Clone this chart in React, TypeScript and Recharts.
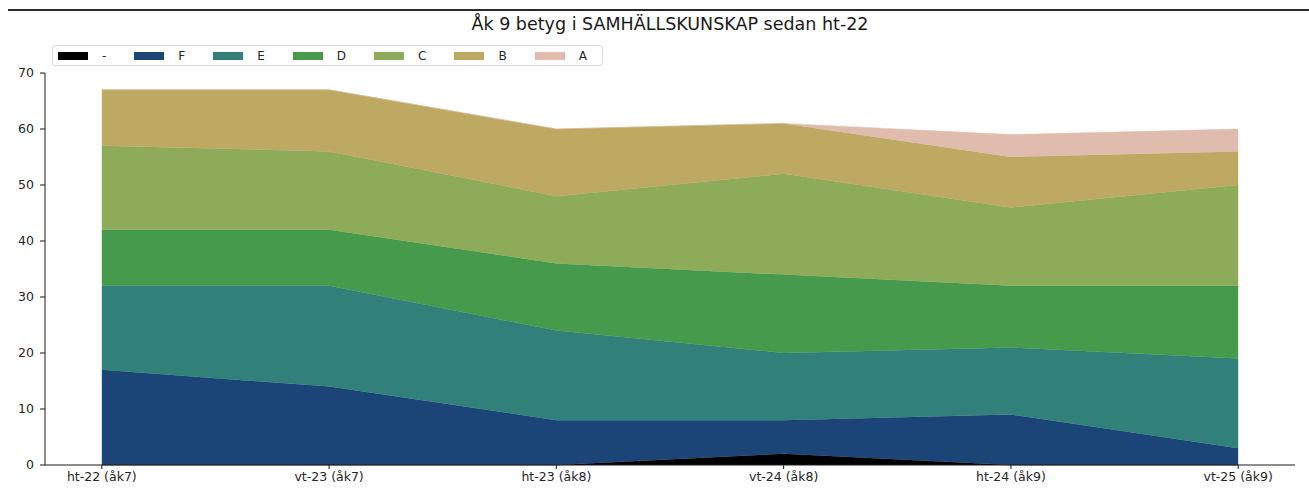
import { AreaChart, Area, XAxis, YAxis } from 'recharts';

const categories = ['ht-22 (åk7)', 'vt-23 (åk7)', 'ht-23 (åk8)', 'vt-24 (åk8)', 'ht-24 (åk9)', 'vt-25 (åk9)'];

// number of pupils per grade, stacked bottom to top
const dash = [0, 0, 0, 2, 0, 0];
const gradeF = [17, 14, 8, 6, 9, 3];
const gradeE = [15, 18, 16, 12, 12, 16];
const gradeD = [10, 10, 12, 14, 11, 13];
const gradeC = [15, 14, 12, 18, 14, 18];
const gradeB = [10, 11, 12, 9, 9, 6];
const gradeA = [0, 0, 0, 0, 4, 4];

const yTicks = [0, 10, 20, 30, 40, 50, 60, 70];

const series = [
  { key: '-', values: dash, color: '#000000' },
  { key: 'F', values: gradeF, color: '#1b4577' },
  { key: 'E', values: gradeE, color: '#31807a' },
  { key: 'D', values: gradeD, color: '#459a4b' },
  { key: 'C', values: gradeC, color: '#8eab59' },
  { key: 'B', values: gradeB, color: '#bea962' },
  { key: 'A', values: gradeA, color: '#e0bcae' },
];

const data = categories.map((name, i) => {
  const row: Record<string, number | string> = { x: i, name };
  series.forEach((s) => {
    row[s.key] = s.values[i];
  });
  return row;
});

const font = '"DejaVu Sans", sans-serif';
const tickStyle = { fill: '#262626', fontSize: 12.5, fontFamily: font };

export default function App() {
  return (
    <div style={{ position: 'absolute', left: 0, top: 0, width: 1309, height: 488, background: '#fff', fontFamily: font }}>
      <div style={{ position: 'absolute', left: 8, top: 9, width: 1301, height: 1.5, background: '#2a2a2a' }} />
      <div
        style={{
          position: 'absolute',
          left: 45,
          width: 1250,
          top: 14,
          textAlign: 'center',
          fontSize: 17.5,
          color: '#1a1a1a',
        }}
      >
        Åk 9 betyg i SAMHÄLLSKUNSKAP sedan ht-22
      </div>
      <div
        style={{
          position: 'absolute',
          left: 52,
          top: 45,
          height: 21,
          width: 551,
          border: '1px solid #dadada',
          borderRadius: 3,
          display: 'flex',
          alignItems: 'center',
          boxSizing: 'border-box',
          paddingLeft: 5,
          zIndex: 2,
          background: 'rgba(255,255,255,0.8)',
        }}
      >
        {series.map((s) => (
          <div key={s.key} style={{ display: 'flex', alignItems: 'center', marginRight: 28 }}>
            <div style={{ width: 30, height: 8, background: s.color, marginRight: 14 }} />
            <span style={{ fontSize: 12, color: '#262626' }}>{s.key}</span>
          </div>
        ))}
      </div>
      <AreaChart
        width={1309}
        height={488}
        data={data}
        margin={{ top: 73, right: 14, left: 5, bottom: 3 }}
      >
        <XAxis
          type="number"
          dataKey="x"
          domain={[-0.25, 5.25]}
          ticks={[0, 1, 2, 3, 4, 5]}
          tickFormatter={(v: number) => categories[v]}
          height={20}
          tickSize={4}
          tickMargin={3}
          stroke="#1a1a1a"
          tick={tickStyle}
          interval={0}
        />
        <YAxis
          domain={[0, 70]}
          ticks={yTicks}
          width={40}
          tickSize={5}
          tickMargin={6}
          stroke="#1a1a1a"
          tick={tickStyle}
          interval={0}
        />
        {series.map((s) => (
          <Area
            key={s.key}
            type="linear"
            dataKey={s.key}
            stackId="1"
            stroke={s.color}
            strokeWidth={0.5}
            fill={s.color}
            fillOpacity={1}
            isAnimationActive={false}
          />
        ))}
        <XAxis xAxisId="top" orientation="top" type="number" dataKey="x" domain={[-0.25, 5.25]} tick={false} tickLine={false} height={0} stroke="#1a1a1a" />
        <YAxis yAxisId="right" orientation="right" tick={false} tickLine={false} width={0} stroke="#e6e6e6" />
      </AreaChart>
    </div>
  );
}
